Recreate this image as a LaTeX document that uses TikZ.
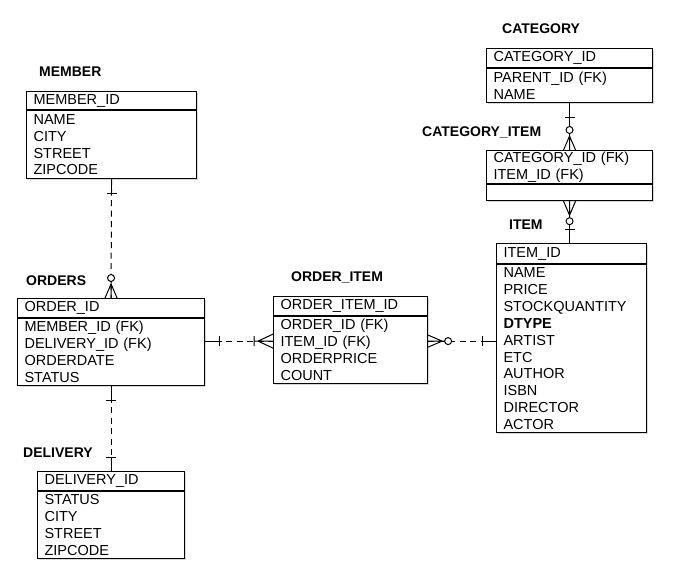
\documentclass[tikz,border=0pt]{standalone}
\usepackage{fontspec}
\setmainfont{Liberation Sans}
\usetikzlibrary{calc,shadows}

\tikzset{
    tbl/.style = {draw, fill = white, line width = 1.1pt,
        anchor = north west, align = left,
        inner xsep = 7pt, inner ysep = 0pt,
        font = \fontsize{14.5}{16.9}\selectfont,
        drop shadow = {shadow xshift = 1pt, shadow yshift = -1.5pt, opacity = 0.3}},
    ename/.style = {anchor = west, inner sep = 0pt,
        font = \fontsize{14}{17}\selectfont\bfseries},
    rel/.style = {line width = 1pt, dash pattern = on 6pt off 4.5pt},
    idrel/.style = {line width = 1pt},
    one/.pic = {\draw [line width = 1pt] (0,0) -- (14,0) (14,-5) -- (14,5);},
    crowring/.pic = {\draw [line width = 1pt] (0,-6) -- (14,0) -- (0,6) (0,0) -- (16.5,0);
        \draw [line width = 1pt, fill = white] (20,0) circle (3.5pt);},
    crowbar/.pic = {\draw [line width = 1pt] (0,-7) -- (15,0) -- (0,7)
        (0,0) -- (19,0) (19,-5) -- (19,5);}
}

\begin{document}
\begin{tikzpicture}[x = 1pt, y = -1pt]
    \useasboundingbox (0,0) rectangle (687,576);

    % MEMBER
    \draw (39,72) node(membertt) [ename] {MEMBER};
    \draw (26,91) node(memberhd) [tbl, text width = 156pt, minimum height = 18pt]
        {MEMBER\_ID};
    \draw (memberhd.south west) node(member) [tbl, text width = 156pt, minimum height = 68pt]
        {NAME\\CITY\\STREET\\ZIPCODE};

    % ORDERS
    \draw (26,281) node(orderstt) [ename] {ORDERS};
    \draw (17,298) node(ordershd) [tbl, text width = 173pt, minimum height = 19pt]
        {ORDER\_ID};
    \draw (ordershd.south west) node(orders) [tbl, text width = 173pt, minimum height = 67pt]
        {MEMBER\_ID (FK)\\DELIVERY\_ID (FK)\\ORDERDATE\\STATUS};

    % DELIVERY
    \draw (23,453) node(deliverytt) [ename] {DELIVERY};
    \draw (37,471) node(deliveryhd) [tbl, text width = 133pt, minimum height = 19pt]
        {DELIVERY\_ID};
    \draw (deliveryhd.south west) node(delivery) [tbl, text width = 133pt, minimum height = 67pt]
        {STATUS\\CITY\\STREET\\ZIPCODE};

    % ORDER_ITEM
    \draw (291,277) node(orderitemtt) [ename] {ORDER\_ITEM};
    \draw (273,296) node(orderitemhd) [tbl, text width = 140pt, minimum height = 19pt]
        {ORDER\_ITEM\_ID};
    \draw (orderitemhd.south west) node(orderitem) [tbl, text width = 140pt, minimum height = 67pt]
        {ORDER\_ID (FK)\\ITEM\_ID (FK)\\ORDERPRICE\\COUNT};

    % ITEM
    \draw (509,225) node(itemtt) [ename] {ITEM};
    \draw (496,243) node(itemhd) [tbl, text width = 136pt, minimum height = 20pt]
        {ITEM\_ID};
    \draw (itemhd.south west) node(item) [tbl, text width = 136pt, minimum height = 168pt]
        {NAME\\PRICE\\STOCKQUANTITY\\\textbf{DTYPE}\\ARTIST\\ETC\\AUTHOR\\ISBN\\DIRECTOR\\ACTOR};

    % CATEGORY
    \draw (502,29) node(categorytt) [ename] {CATEGORY};
    \draw (486,48) node(categoryhd) [tbl, text width = 152pt, minimum height = 19pt]
        {CATEGORY\_ID};
    \draw (categoryhd.south west) node(category) [tbl, text width = 152pt, minimum height = 34pt]
        {PARENT\_ID (FK)\\NAME};

    % CATEGORY_ITEM
    \draw (422,132) node(catitemtt) [ename] {CATEGORY\_ITEM};
    \draw (486,150) node(catitemhd) [tbl, text width = 152pt, minimum height = 33pt]
        {CATEGORY\_ID (FK)\\ITEM\_ID (FK)};
    \draw (catitemhd.south west) node(catitem) [tbl, text width = 152pt, minimum height = 16pt] {};

    % relations
    \draw [rel] (member.south) -- (ordershd.north);
    \path (member.south) pic [rotate = -90] {one}
        (ordershd.north) pic [rotate = 90] {crowring};

    \draw [rel] (orders.south) -- (deliveryhd.north);
    \path (orders.south) pic [rotate = -90] {one}
        (deliveryhd.north) pic [rotate = 90] {one};

    \coordinate (oL) at ($(orders.north east) + (0,23)$);
    \draw [rel] (oL) -- (oL -| orderitem.west);
    \path (oL) pic {one}
        (oL -| orderitem.west) pic [rotate = 180] {crowbar};

    \coordinate (iL) at ($(orderitem.north east) + (0,25)$);
    \draw [rel] (iL) -- (iL -| item.west);
    \path (iL) pic {crowring}
        (iL -| item.west) pic [rotate = 180] {one};

    \draw [idrel] (category.south) -- (catitemhd.north);
    \path (category.south) pic [rotate = -90] {one}
        (catitemhd.north) pic [rotate = 90] {crowring};

    \draw [idrel] (catitem.south) -- (catitem.south |- itemhd.north);
    \path (catitem.south) pic [rotate = -90] {crowring}
        (catitem.south |- itemhd.north) pic [rotate = 90] {one};
\end{tikzpicture}
\end{document}
